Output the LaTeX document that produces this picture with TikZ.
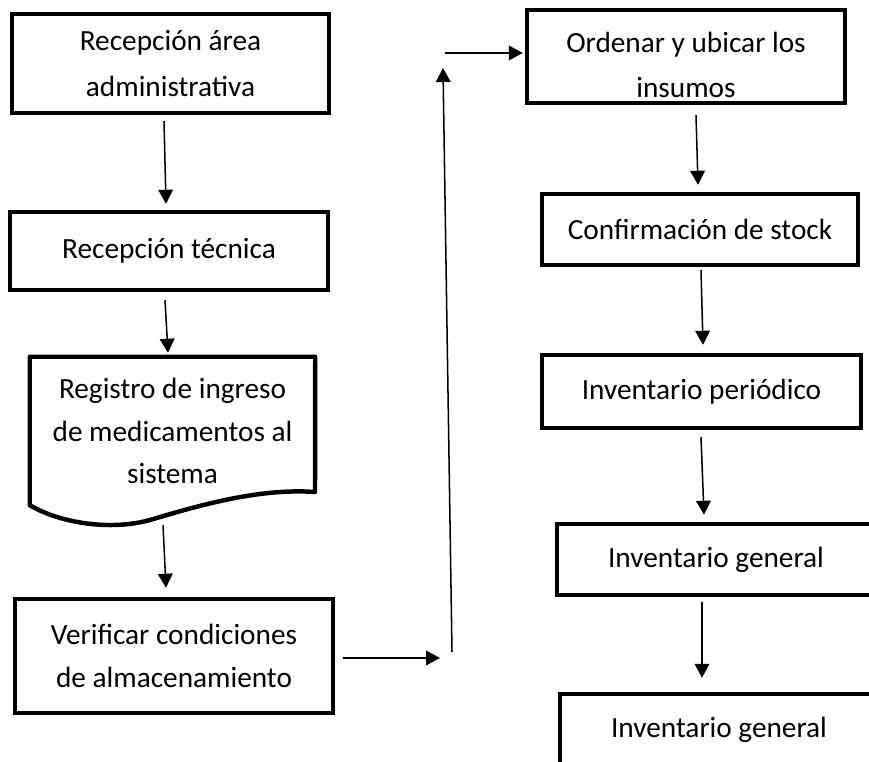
\documentclass[tikz,border=0pt]{standalone}
\usepackage{fontspec}
\setmainfont{Carlito}
\usetikzlibrary{arrows.meta,calc}

\begin{document}
\begin{tikzpicture}[x=0.03cm,y=-0.03cm,>={Triangle[length=4.2mm,width=4.4mm]},
  caja/.style={draw,line width=3.8pt,align=center,inner sep=0pt,font=\fontsize{25}{36}\selectfont},
  hoja/.style={align=center,inner sep=0pt,font=\fontsize{25}{36}\selectfont},
  flecha/.style={->,line width=1.3pt}]
\useasboundingbox (0,0) rectangle (869,762);
\clip (0,0) rectangle (869,762);
\node[caja,font=\fontsize{25}{39}\selectfont,minimum width=317*0.03cm,minimum height=99*0.03cm] (recep) at (170.5,63.5) {Recepción área\\administrativa};
\node[caja,minimum width=318*0.03cm,minimum height=78*0.03cm] (tecnica) at (169,251) {Recepción técnica};
\node[hoja,minimum width=285*0.03cm,minimum height=148*0.03cm] (registro) at (172.5,431) {Registro de ingreso\\de medicamentos al\\sistema};
\draw[line width=3.8pt,line join=round] (registro.north west) -- (registro.north east) -- (315,492)
  .. controls (260,488) and (200,505) .. (150,520)
  .. controls (110,531) and (60,523) .. (registro.south west) -- cycle;
\node[caja,minimum width=318*0.03cm,minimum height=114*0.03cm] (verificar) at (174,656) {Verificar condiciones\\de almacenamiento};
\node[caja,font=\fontsize{25}{39}\selectfont,minimum width=318*0.03cm,minimum height=93*0.03cm] (ordenar) at (686,56.5) {\rule{0pt}{32pt}Ordenar y ubicar los\\insumos};
\node[caja,minimum width=316*0.03cm,minimum height=71*0.03cm] (stock) at (700,229.5) {Confirmación de stock};
\node[caja,minimum width=319*0.03cm,minimum height=73*0.03cm] (periodico) at (701.5,391.5) {Inventario periódico};
\node[caja,minimum width=318*0.03cm,minimum height=71*0.03cm] (general) at (716,559.5) {Inventario general};
\node[caja,minimum width=318*0.03cm,minimum height=71*0.03cm] (generalb) at (719,729.5) {Inventario general};
\coordinate (giroa) at (440,658);
\coordinate (girob) at (452,652);
\coordinate (giroc) at (443,68);
\coordinate (girod) at (445,53);
\draw[flecha] ($(recep.south)+(-6.5,6)$) -- ($(tecnica.north)+(-3,-6)$);
\draw[flecha] ($(tecnica.south)+(-4,8)$) -- ($(registro.north)+(-4.5,-4)$);
\draw[flecha] ($(registro.south)+(-9.5,20)$) -- ($(verificar.north)+(-8,-9)$);
\draw[flecha] ($(verificar.east)+(8,2)$) -- (giroa);
\draw[flecha] (girob) -- (giroc);
\draw[flecha] (girod) -- ($(ordenar.west)+(-2,-3.5)$);
\draw[flecha] ($(ordenar.south)+(10,10)$) -- ($(stock.north)+(-2,-7)$);
\draw[flecha] ($(stock.south)+(1,3)$) -- ($(periodico.north)+(1.5,-8)$);
\draw[flecha] ($(periodico.south)+(-0.5,7)$) -- ($(general.north)+(-12,-7)$);
\draw[flecha] ($(general.south)+(-14,5)$) -- ($(generalb.north)+(-17,-14)$);
\end{tikzpicture}
\end{document}
